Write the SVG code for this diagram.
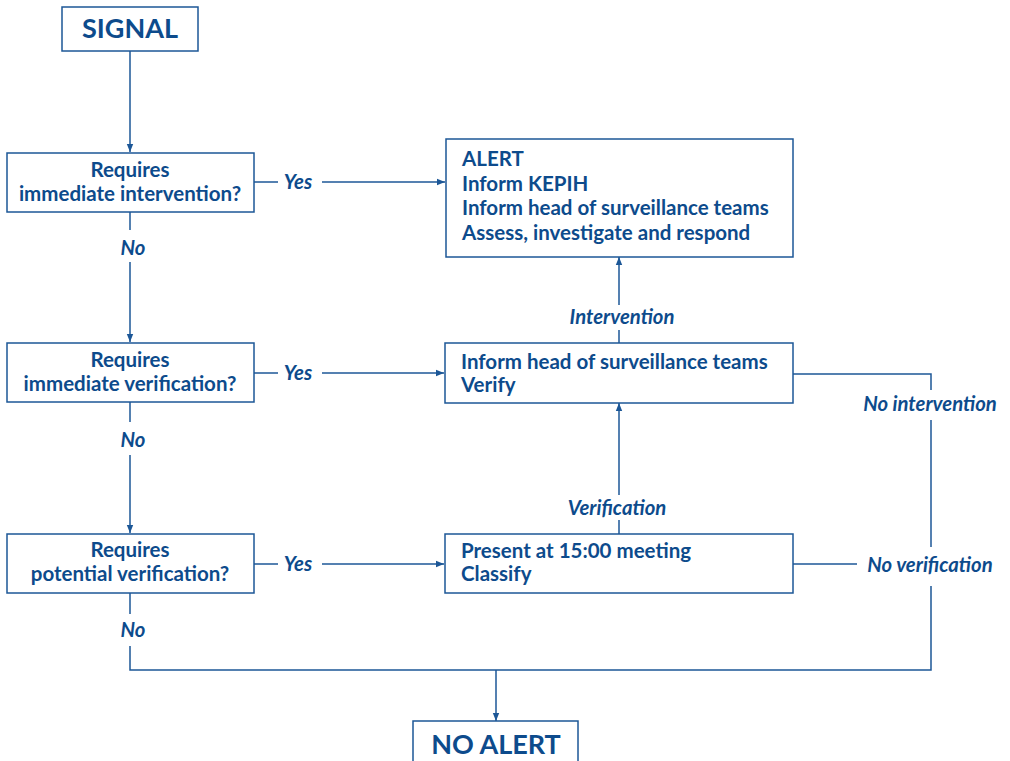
<svg xmlns="http://www.w3.org/2000/svg" width="1010" height="761" viewBox="0 0 1010 761">
<style>
.box{fill:#fff;stroke:#1c5797;stroke-width:1.5}
.ln{fill:none;stroke:#1c5797;stroke-width:1.5}
.t{font-family:Lato,"Open Sans",sans-serif;font-weight:700;font-size:20.5px;fill:#0d4b8c}
.c{text-anchor:middle}
.lb{font-family:Lato,"Open Sans",sans-serif;font-weight:700;font-style:italic;font-size:20.3px;fill:#0d4b8c;text-anchor:middle}
.big{font-size:27px}
</style>
<defs>
<marker id="ah" viewBox="0 0 8 8" refX="8" refY="4" markerWidth="8" markerHeight="8" markerUnits="userSpaceOnUse" orient="auto">
<path d="M0,0.8 L8,4 L0,7.2 Z" fill="#1c5797"/>
</marker>
</defs>
<rect width="1010" height="761" fill="#fff"/>
<g id="connectors">
<path class="ln" d="M130,51 V152" marker-end="url(#ah)"/>
<path class="ln" d="M254,182 H278"/>
<path class="ln" d="M322,182 H445" marker-end="url(#ah)"/>
<path class="ln" d="M130,212 V230"/>
<path class="ln" d="M130,262 V342" marker-end="url(#ah)"/>
<path class="ln" d="M254,373 H278"/>
<path class="ln" d="M322,373 H444" marker-end="url(#ah)"/>
<path class="ln" d="M130,402 V422"/>
<path class="ln" d="M130,455 V533" marker-end="url(#ah)"/>
<path class="ln" d="M254,564 H278"/>
<path class="ln" d="M322,564 H444" marker-end="url(#ah)"/>
<path class="ln" d="M130,593 V614"/>
<path class="ln" d="M130,646 V670 H931 V586"/>
<path class="ln" d="M496,670 V721" marker-end="url(#ah)"/>
<path class="ln" d="M619,343 V330"/>
<path class="ln" d="M619,305 V257" marker-end="url(#ah)"/>
<path class="ln" d="M619,534 V520"/>
<path class="ln" d="M619,495 V403" marker-end="url(#ah)"/>
<path class="ln" d="M793,374 H931 V390"/>
<path class="ln" d="M931,420 V547"/>
<path class="ln" d="M793,564 H857"/>
</g>
<g id="labels">
<text class="lb" x="298" y="189">Yes</text>
<text class="lb" x="298" y="380">Yes</text>
<text class="lb" x="298" y="571">Yes</text>
<text class="lb" x="133" y="255">No</text>
<text class="lb" x="133" y="447">No</text>
<text class="lb" x="133" y="637">No</text>
<text class="lb" x="622" y="324">Intervention</text>
<text class="lb" x="617" y="515">Verification</text>
<text class="lb" x="930" y="411">No intervention</text>
<text class="lb" x="930" y="572">No verification</text>
</g>
<g id="signal">
<rect class="box" x="62" y="7" width="136" height="44"/>
<text class="t c big" x="130" y="38">SIGNAL</text>
</g>
<g id="q1">
<rect class="box" x="7" y="153" width="247" height="59"/>
<text class="t c" x="130" y="177">Requires</text>
<text class="t c" x="130" y="201">immediate intervention?</text>
</g>
<g id="q2">
<rect class="box" x="7" y="343" width="247" height="59"/>
<text class="t c" x="130" y="367">Requires</text>
<text class="t c" x="130" y="391">immediate verification?</text>
</g>
<g id="q3">
<rect class="box" x="7" y="534" width="247" height="59"/>
<text class="t c" x="130" y="557">Requires</text>
<text class="t c" x="130" y="581">potential verification?</text>
</g>
<g id="alert">
<rect class="box" x="446" y="139" width="347" height="118"/>
<text class="t" x="462" y="166">ALERT</text>
<text class="t" x="462" y="191">Inform KEPIH</text>
<text class="t" x="462" y="215">Inform head of surveillance teams</text>
<text class="t" x="462" y="240">Assess, investigate and respond</text>
</g>
<g id="verify">
<rect class="box" x="445" y="343" width="348" height="60"/>
<text class="t" x="461" y="369">Inform head of surveillance teams</text>
<text class="t" x="461" y="392">Verify</text>
</g>
<g id="classify">
<rect class="box" x="445" y="534" width="348" height="59"/>
<text class="t" x="461" y="558">Present at 15:00 meeting</text>
<text class="t" x="461" y="581">Classify</text>
</g>
<g id="noalert">
<rect class="box" x="413" y="721" width="165" height="50"/>
<text class="t c big" x="496" y="754">NO ALERT</text>
</g>
</svg>
